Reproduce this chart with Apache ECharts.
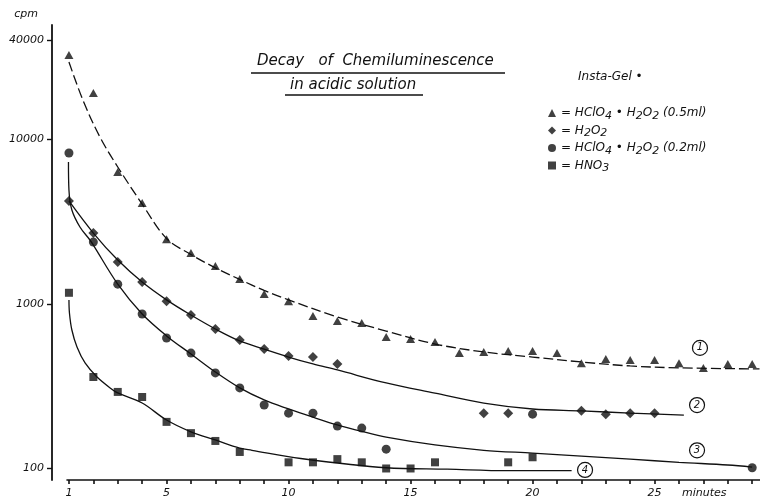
<!DOCTYPE html>
<html>
<head>
<meta charset="utf-8">
<title>Decay of Chemiluminescence</title>
<script src="https://cdn.jsdelivr.net/npm/echarts@6/dist/echarts.min.js"></script>
<style>
  html, body { margin: 0; padding: 0; background: #fff; }
  #chart { width: 760px; height: 501px; }
</style>
</head>
<body>
<div id="chart"></div>
<script>
// Measured count rates (cpm) against time (minutes) for each acid / Insta-Gel mix
const triMinutes = [1, 2, 3, 4, 5, 6, 7, 8, 9, 10, 11, 12, 13, 14, 15, 16, 17, 18, 19, 20, 21, 22, 23, 24, 25, 26, 27, 28, 29];
const triCpm = [32600, 19200, 6340, 4110, 2480, 2040, 1700, 1420, 1150, 1040, 845, 788, 766, 630, 612, 587, 503, 510, 518, 518, 503, 437, 463, 457, 457, 437, 408, 432, 432];

const diaMinutes = [1, 2, 3, 4, 5, 6, 7, 8, 9, 10, 11, 12, 18, 19, 22, 23, 24, 25];
const diaCpm = [4230, 2700, 1800, 1360, 1040, 857, 705, 604, 532, 483, 476, 432, 217, 217, 224, 214, 217, 217];

const dotMinutes = [1, 2, 3, 4, 5, 6, 7, 8, 9, 10, 11, 12, 13, 14, 20, 29];
const dotCpm = [8280, 2380, 1320, 869, 621, 503, 381, 309, 243, 217, 217, 181, 176, 131, 214, 101];

const sqMinutes = [1, 2, 3, 4, 5, 6, 7, 8, 10, 11, 12, 13, 14, 15, 16, 19, 20];
const sqCpm = [1170, 360, 292, 272, 192, 164, 147, 126, 109, 109, 114, 109, 100, 100, 109, 109, 117];

// Hand-fitted decay curves (1)-(4)
const curve1Minutes = [1, 1.57, 2.27, 3, 4, 5, 6, 7, 8, 9, 10, 12, 14, 16, 18, 20, 22, 24, 26, 29.3];
const curve1Cpm = [29600, 17400, 10350, 6810, 4050, 2500, 2000, 1660, 1410, 1210, 1060, 834, 685, 571, 511, 476, 444, 420, 409, 403];

const curve2Minutes = [1, 2, 3, 4, 5, 6, 7, 8, 9, 10, 11, 12, 14, 16, 18, 20, 22, 24, 26.2];
const curve2Cpm = [4230, 2700, 1850, 1360, 1060, 857, 705, 596, 532, 476, 432, 397, 331, 287, 250, 230, 224, 217, 211];

const curve3Minutes = [0.98, 1, 1.12, 1.45, 1.86, 2, 3, 4, 5, 6, 7, 8, 9, 10, 11, 12, 13, 14, 16, 18, 20, 22, 24, 26, 28, 29];
const curve3Cpm = [7300, 4930, 3730, 2940, 2450, 2280, 1320, 869, 640, 497, 386, 309, 261, 230, 205, 184, 168, 155, 139, 129, 124, 119, 114, 109, 105, 102];

const curve4Minutes = [1, 1.02, 1.12, 1.33, 1.66, 2.15, 2.8, 3, 4, 5, 6, 7, 8, 8.5, 10.5, 14, 16.5, 19, 21.6];
const curve4Cpm = [1057, 882, 695, 548, 438, 360, 300, 288, 250, 197, 167, 149, 133, 129, 115, 101, 99, 97, 97];

// Axis ticks and labels
const minuteTicks = [1, 2, 3, 4, 5, 6, 7, 8, 9, 10, 11, 12, 13, 14, 15, 16, 17, 18, 19, 20, 21, 22, 23, 24, 25, 26, 27, 28, 29];
const minuteLabels = [1, 5, 10, 15, 20, 25];
const cpmLabels = [100, 1000, 10000, 40000];
const cpmMinorTicks = [200, 300, 400, 500, 600, 700, 800, 900, 2000, 3000, 4000, 5000, 6000, 7000, 8000, 9000, 20000, 30000];

// Legend entries; {s|..} marks a lowered subscript
const seriesNames = ['HClO4 • H2O2 (0.5ml)', 'H2O2', 'HClO4 • H2O2 (0.2ml)', 'HNO3'];
const legendText = [
  'HClO{s|4} • H{s|2}O{s|2} (0.5ml)',
  'H{s|2}O{s|2}',
  'HClO{s|4} • H{s|2}O{s|2} (0.2ml)',
  'HNO{s|3}'
];

const INK = '#111';
const FONT = 'DejaVu Sans';

function pairs(xs, ys) { return xs.map((x, i) => [x, ys[i]]); }

const italic = (size) => ({ fontFamily: FONT, fontStyle: 'italic', fontWeight: 'normal', fontSize: size, color: INK });

function curve(xs, ys, dash, tag, coord) {
  return {
    type: 'line',
    data: pairs(xs, ys),
    smooth: 0.35,
    symbol: 'none',
    silent: true,
    z: 2,
    lineStyle: { color: INK, width: 1.3, type: dash },
    markPoint: {
      symbol: 'circle',
      symbolSize: 15,
      silent: true,
      itemStyle: { color: '#fff', borderColor: INK, borderWidth: 1.2 },
      label: Object.assign({ show: true, position: 'inside', formatter: tag }, italic(10)),
      data: [{ coord: coord }]
    }
  };
}

function marks(name, xs, ys, symbol, size) {
  return {
    type: 'scatter',
    name: name,
    data: pairs(xs, ys),
    symbol: symbol,
    symbolSize: size,
    z: 3,
    itemStyle: { color: INK }
  };
}

const chart = echarts.init(document.getElementById('chart'));

chart.setOption({
  animation: false,
  backgroundColor: '#fff',
  title: [
    { text: 'Decay   of  Chemiluminescence', left: 257, top: 54, padding: 0, textStyle: italic(15) },
    { text: 'in acidic solution', left: 290, top: 78, padding: 0, textStyle: italic(15) },
    { text: 'Insta-Gel •', left: 578, top: 71, padding: 0, textStyle: italic(12) }
  ],
  legend: {
    data: seriesNames,
    orient: 'vertical',
    left: 548,
    top: 107,
    padding: 0,
    itemWidth: 8,
    itemHeight: 8,
    itemGap: 3,
    selectedMode: false,
    formatter: (name) => '= ' + legendText[seriesNames.indexOf(name)],
    textStyle: Object.assign({
      rich: { s: Object.assign({ padding: [6, 0, 0, 0] }, italic(11)) }
    }, italic(12))
  },
  grid: { left: 67, right: 0, top: 25, bottom: 21 },
  xAxis: {
    type: 'value',
    min: 0.92,
    max: 29.32,
    splitLine: { show: false },
    axisLine: { lineStyle: { color: INK, width: 1.6 } },
    axisTick: { show: true, customValues: minuteTicks, length: 4, lineStyle: { color: INK, width: 1.6 } },
    axisLabel: Object.assign({ customValues: minuteLabels, margin: 8 }, italic(11))
  },
  yAxis: [
    {
      type: 'log',
      min: 85.1,
      max: 49700,
      offset: 15,
      name: 'cpm',
      nameLocation: 'end',
      nameGap: 5,
      nameTextStyle: Object.assign({ align: 'right', padding: [0, 14, 0, 0] }, italic(11)),
      splitLine: { show: false },
      axisLine: { show: true, lineStyle: { color: INK, width: 1.8 } },
      axisTick: { show: true, customValues: cpmLabels, length: 5, lineStyle: { color: INK, width: 1.4 } },
      axisLabel: Object.assign({
        customValues: cpmLabels,
        margin: 8,
        formatter: (v) => String(Math.round(v))
      }, italic(11))
    },
    {
      type: 'log',
      min: 85.1,
      max: 49700,
      offset: 15,
      splitLine: { show: false },
      axisLine: { show: false },
      axisLabel: { show: false },
      axisTick: { show: true, customValues: cpmMinorTicks, length: 3, lineStyle: { color: INK, width: 1.2 } }
    }
  ],
  graphic: [
    { type: 'line', shape: { x1: 251, y1: 73, x2: 505, y2: 73 }, style: { stroke: INK, lineWidth: 1.3 } },
    { type: 'line', shape: { x1: 285, y1: 95, x2: 423, y2: 95 }, style: { stroke: INK, lineWidth: 1.3 } },
    { type: 'text', left: 682, top: 488, style: { text: 'minutes', font: 'italic 11px "DejaVu Sans"', fill: INK } }
  ],
  series: [
    curve(curve1Minutes, curve1Cpm, [10, 4], '1', [26.86, 541]),
    curve(curve2Minutes, curve2Cpm, 'solid', '2', [26.74, 243]),
    curve(curve3Minutes, curve3Cpm, 'solid', '3', [26.74, 129]),
    curve(curve4Minutes, curve4Cpm, 'solid', '4', [22.15, 98]),
    marks(seriesNames[0], triMinutes, triCpm, 'triangle', [9, 8]),
    marks(seriesNames[1], diaMinutes, diaCpm, 'diamond', 10),
    marks(seriesNames[2], dotMinutes, dotCpm, 'circle', 9),
    marks(seriesNames[3], sqMinutes, sqCpm, 'rect', 8)
  ]
});
</script>
</body>
</html>
